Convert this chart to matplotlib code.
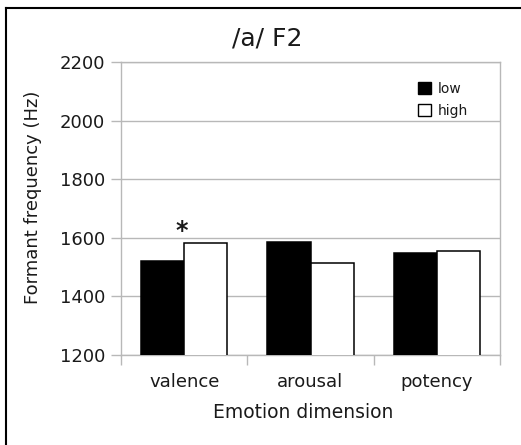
import numpy as np
import matplotlib
matplotlib.use('Agg')
from matplotlib import pyplot as plt
from matplotlib.patches import Patch
from matplotlib.lines import Line2D

categories = ['valence', 'arousal', 'potency']
low = np.array([1521, 1585, 1549])
high = np.array([1582, 1513, 1555])
yticks = [1200, 1400, 1600, 1800, 2000, 2200]

W, H = 521, 445
grey = '#b8b8b8'
txt = '#1a1a1a'

fig = plt.figure(figsize=(W/100, H/100), dpi=100)
ax = fig.add_axes([121/W, 1 - 355/H, 379/W, 293/H])

x = np.arange(len(categories))
bw = 0.343
ax.bar(x - bw/2, low, bw, bottom=0, color='black', edgecolor='black', linewidth=1.1, zorder=3)
ax.bar(x + bw/2, high, bw, color='white', edgecolor='black', linewidth=1.1, zorder=3)

ax.set_xlim(-0.5, 2.5)
ax.set_ylim(1200, 2200)
ax.set_yticks(yticks)
ax.yaxis.grid(True, color=grey, linewidth=1.0, zorder=0)
ax.set_axisbelow(True)

ax.set_xticks(x)
ax.set_xticklabels(categories, fontsize=13, color=txt)
ax.set_xticks([-0.5, 0.5, 1.5, 2.5], minor=True)
ax.tick_params(axis='x', which='major', length=0, pad=13)
ax.tick_params(axis='x', which='minor', length=7.5, color=grey, width=1.0, direction='out')
ax.tick_params(axis='y', length=7.5, color=grey, width=1.0, direction='out',
               labelsize=13, labelcolor=txt, pad=4)
for s in ax.spines.values():
    s.set_color(grey)
    s.set_linewidth(1.0)

# significance mark
ax.text(-0.02, 1624, '*', fontsize=17, fontweight='bold', ha='center', va='center', color=txt)

handles = [Patch(facecolor='black', edgecolor='black', linewidth=1.0),
           Patch(facecolor='white', edgecolor='black', linewidth=1.0)]
ax.legend(handles, ['low', 'high'], loc='upper left', bbox_to_anchor=(0.765, 0.955),
          frameon=False, fontsize=10, borderpad=0, handlelength=0.95, handleheight=0.95,
          handletextpad=0.5, labelspacing=0.55, labelcolor=txt)

fig.text(267/W, 1 - 39/H, '/a/ F2', fontsize=18, ha='center', va='center', color=txt)
fig.text(303/W, 1 - 413/H, 'Emotion dimension', fontsize=13.5, ha='center', va='center', color=txt)
fig.text(33/W, 1 - 197/H, 'Formant frequency (Hz)', fontsize=13, rotation=90,
         ha='center', va='center', color=txt)

# outer frame (left and top edges visible)
fig.add_artist(Line2D([6/W, 6/W], [0, 1 - 8/H], color='black', linewidth=1.5))
fig.add_artist(Line2D([6/W, 1], [1 - 8/H, 1 - 8/H], color='black', linewidth=1.5))

fig.savefig('out.png', dpi=100)
